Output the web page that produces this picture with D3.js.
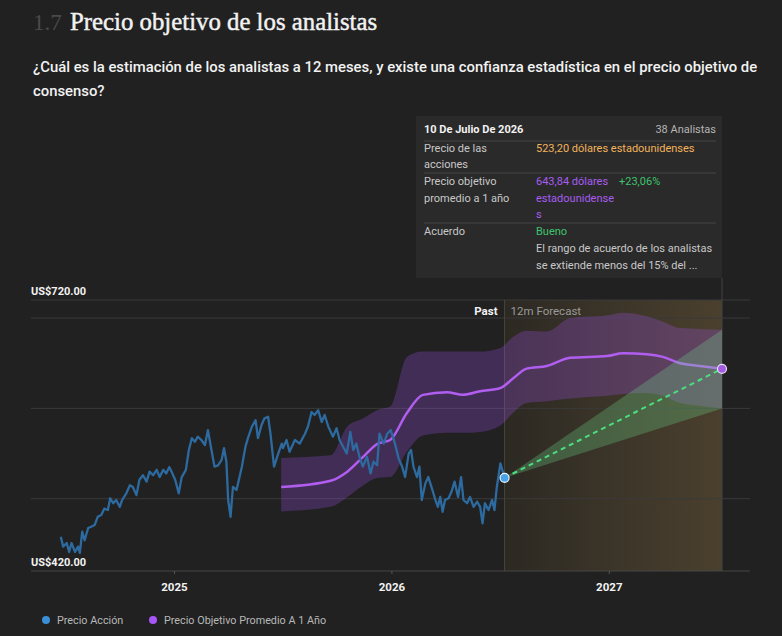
<!DOCTYPE html>
<html lang="es">
<head>
<meta charset="UTF-8">
<title>Precio objetivo de los analistas</title>
<style>
  html, body { margin: 0; padding: 0; background: #212121; }
  svg { display: block; }
</style>
</head>
<body>
<svg width="782" height="636"></svg>
<script src="https://cdn.jsdelivr.net/npm/d3@7"></script>
<script>
// datos
var priceDates = ["2024-06-25","2024-06-29","2024-07-05","2024-07-09","2024-07-13","2024-07-19","2024-07-24","2024-07-27","2024-07-31","2024-08-04",
  "2024-08-10","2024-08-15","2024-08-21","2024-08-26","2024-09-01","2024-09-06","2024-09-12","2024-09-16","2024-09-21","2024-09-26",
  "2024-10-02","2024-10-06","2024-10-13","2024-10-19","2024-10-24","2024-10-30","2024-11-04","2024-11-10","2024-11-16","2024-11-21",
  "2024-11-27","2024-12-03","2024-12-08","2024-12-14","2024-12-19","2024-12-24","2024-12-28","2025-01-03","2025-01-09","2025-01-14",
  "2025-01-21","2025-01-26","2025-01-31","2025-02-05","2025-02-10","2025-02-16","2025-02-22","2025-02-27","2025-03-04","2025-03-10",
  "2025-03-16","2025-03-22","2025-03-26","2025-03-30","2025-04-02","2025-04-06","2025-04-10","2025-04-16","2025-04-20","2025-04-25",
  "2025-05-01","2025-05-06","2025-05-12","2025-05-18","2025-05-22","2025-05-28","2025-06-02","2025-06-08","2025-06-12","2025-06-18",
  "2025-06-25","2025-07-01","2025-07-03","2025-07-09","2025-07-14","2025-07-23","2025-07-31","2025-08-09","2025-08-14","2025-08-20",
  "2025-08-25","2025-08-31","2025-09-06","2025-09-11","2025-09-17","2025-09-25","2025-10-01","2025-10-06","2025-10-12","2025-10-18",
  "2025-10-24","2025-10-29","2025-11-03","2025-11-09","2025-11-14","2025-11-21","2025-11-27","2025-12-02","2025-12-08","2025-12-12",
  "2025-12-19","2025-12-25","2025-12-31","2026-01-07","2026-01-13","2026-01-19","2026-01-24","2026-01-30","2026-02-03","2026-02-07",
  "2026-02-13","2026-02-17","2026-02-21","2026-02-27","2026-03-04","2026-03-10","2026-03-15","2026-03-20","2026-03-24","2026-03-28",
  "2026-04-01","2026-04-07","2026-04-12","2026-04-17","2026-04-23","2026-04-28","2026-05-02","2026-05-08","2026-05-13","2026-05-19",
  "2026-05-25","2026-05-30","2026-06-03","2026-06-07","2026-06-13","2026-06-19","2026-06-23","2026-06-27","2026-07-03","2026-07-07",
  "2026-07-10"];
var priceValues = [458,447,451,441,451,441,447,440,463.5,454,
  467.6,469,471,480,482,489,487.5,500.5,495,498.6,
  491,498.6,506,515,513,504,521,526,519,530,
  526,532,524,532,528,535,530,521,506,524,
  532,554,567,563,568.7,565,559.5,576,557.6,535.5,
  537,543,556,541,498.6,480,513,509.7,521,535.5,
  557.6,568.7,580,587,567,581.6,589,590.8,572,535.5,
  550,561,556,565,552,565,561,572,580,596,
  592.7,598,585,592.7,580,568.7,578,565,557.6,550,
  574,554,561,545,535.5,546.5,528,541,537,572,
  561,572,576,561,545,535.5,524,550,554,535.5,
  524,535.5,498.6,517,524,511.5,500.5,491,502,485.6,
  498.6,500.5,508,519,502,524,498.6,495,502,491,
  496.7,491,472.8,495,487.5,498.6,487.5,513,539,530,
  523.2];

var targetDates = ["2025-06-30","2025-09-21","2025-10-19","2025-11-15","2025-12-08","2025-12-30","2026-01-27","2026-02-23","2026-04-04","2026-05-01",
  "2026-05-30","2026-07-03","2026-07-24","2026-08-16","2026-09-19","2026-10-28","2026-12-29","2027-01-25","2027-03-06","2027-04-02",
  "2027-05-01","2027-06-03","2027-07-10"];
var targetMean = [513,520,530,546.6,560.6,565,595,615,618,615,619,622.6,633,644,647,656,658,661,660,657,650,647,643.84];
var targetHigh = [545,548,580,589,598,602,657,663,663,663,663,667,679,686,685,700,703,706,702,696,689,688,687];
var targetLow  = [486,491,502,515,523,524,552,570,573,573,574,581,595,606,608,611,614,616,617,614,606,603,600];

var lastPriceDate = "2026-07-10", lastPrice = 523.2;
var forecastDate = "2027-07-10", forecastMean = 643.84, forecastLow = 600, forecastHigh = 687;
var yTicks = [500, 600, 700];
var yLabels = [720, 420];
var xTickYears = ["2025-01-01", "2026-01-01", "2027-01-01"];

var parse = d3.timeParse("%Y-%m-%d");
var svg = d3.select("svg");
var sans = "Roboto, 'Noto Sans', sans-serif";
var serif = "'Liberation Serif', 'DejaVu Serif', serif";

var x = d3.scaleTime().domain([parse("2024-05-06"), parse("2027-08-26")]).range([31, 750]);
var y = d3.scaleLinear().domain([420, 720]).range([571, 300]);

var price = priceDates.map(function(d, i){ return {date: parse(d), v: priceValues[i]}; });
var target = targetDates.map(function(d, i){
  return {date: parse(d), m: targetMean[i], hi: targetHigh[i], lo: targetLow[i]};
});

// titulo
svg.append("text").attr("x", 33).attr("y", 30)
  .attr("font-family", serif).attr("font-size", 23)
  .attr("fill", "#4a4a4a").text("1.7");
svg.append("text").attr("x", 70).attr("y", 30)
  .attr("font-family", serif).attr("font-size", 24.8)
  .attr("fill", "#f2f2f2").attr("stroke", "#f2f2f2").attr("stroke-width", 0.45)
  .text("Precio objetivo de los analistas");
svg.append("text").attr("x", 33).attr("y", 72)
  .attr("font-family", sans).attr("font-size", 14.85).attr("font-weight", 500)
  .attr("fill", "#f2f2f2")
  .text("¿Cuál es la estimación de los analistas a 12 meses, y existe una confianza estadística en el precio objetivo de");
svg.append("text").attr("x", 33).attr("y", 96)
  .attr("font-family", sans).attr("font-size", 14.85).attr("font-weight", 500)
  .attr("fill", "#f2f2f2").text("consenso?");

// zona de prevision
var defs = svg.append("defs");
var grad = defs.append("linearGradient").attr("id", "fc").attr("x1", 0).attr("x2", 1).attr("y1", 0).attr("y2", 0);
grad.append("stop").attr("offset", 0).attr("stop-color", "#2c2923");
grad.append("stop").attr("offset", 1).attr("stop-color", "#4b402e");

var x0 = x(parse(lastPriceDate)), x1 = x(parse(forecastDate));
svg.append("rect").attr("x", x0).attr("y", y(720)).attr("width", x1 - x0).attr("height", y(420) - y(720))
  .attr("fill", "url(#fc)");

// rejilla
var grid = svg.append("g");
grid.selectAll("line").data([720].concat(yTicks)).enter().append("line")
  .attr("x1", 31).attr("x2", 750)
  .attr("y1", function(d){ return y(d); }).attr("y2", function(d){ return y(d); })
  .attr("stroke", "#3a3a3a").attr("stroke-width", 1);

svg.append("line").attr("x1", x0).attr("x2", x0).attr("y1", y(720)).attr("y2", y(420))
  .attr("stroke", "#4a4538");
svg.append("line").attr("x1", x1).attr("x2", x1).attr("y1", 278).attr("y2", y(420))
  .attr("stroke", "#444");

// eje x
var xAxis = d3.axisBottom(x).tickValues(xTickYears.map(parse)).tickFormat(d3.timeFormat("%Y")).tickSize(3);
var gx = svg.append("g").attr("transform", "translate(0," + y(420) + ")").call(xAxis);
gx.select(".domain").attr("stroke", "#474747").attr("d", "M31,0H750");
gx.selectAll(".tick line").attr("stroke", "#555");
gx.selectAll(".tick text").attr("fill", "#f2f2f2").attr("font-family", sans)
  .attr("font-size", 11.5).attr("font-weight", 700).attr("dy", "1.2em");

// etiquetas y
svg.selectAll(".ylab").data(yLabels).enter().append("text")
  .attr("x", 31).attr("y", function(d){ return y(d) - 5; })
  .attr("font-family", sans).attr("font-size", 11).attr("font-weight", 700).attr("fill", "#f2f2f2")
  .text(function(d){ return "US$" + d3.format(".2f")(d); });

// banda de precio objetivo
var band = d3.area().curve(d3.curveMonotoneX)
  .x(function(d){ return x(d.date); })
  .y0(function(d){ return y(d.lo); })
  .y1(function(d){ return y(d.hi); });
svg.append("path").datum(target).attr("d", band).attr("fill", "rgba(168,85,247,0.25)");

svg.append("path").datum(target)
  .attr("d", d3.line().curve(d3.curveMonotoneX).x(function(d){ return x(d.date); }).y(function(d){ return y(d.m); }))
  .attr("fill", "none").attr("stroke", "#b15ef0").attr("stroke-width", 2.5);

// linea de precio
svg.append("path").datum(price)
  .attr("d", d3.line().x(function(d){ return x(d.date); }).y(function(d){ return y(d.v); }))
  .attr("fill", "none").attr("stroke", "#2d6a9f").attr("stroke-width", 2.3).attr("stroke-linejoin", "round");

// cono de prevision
var cone = [
  {date: parse(lastPriceDate), lo: lastPrice, hi: lastPrice},
  {date: parse(forecastDate), lo: forecastLow, hi: forecastHigh}
];
svg.append("path").datum(cone)
  .attr("d", d3.area().x(function(d){ return x(d.date); }).y0(function(d){ return y(d.lo); }).y1(function(d){ return y(d.hi); }))
  .attr("fill", "rgba(110,220,140,0.28)");
svg.append("line")
  .attr("x1", x0).attr("y1", y(lastPrice)).attr("x2", x1).attr("y2", y(forecastMean))
  .attr("stroke", "#4ade80").attr("stroke-width", 2).attr("stroke-dasharray", "5,4");

svg.append("circle").attr("cx", x0).attr("cy", y(lastPrice)).attr("r", 4.5)
  .attr("fill", "#4aa3e8").attr("stroke", "#e8f2fb").attr("stroke-width", 1.2);
svg.append("circle").attr("cx", x1).attr("cy", y(forecastMean)).attr("r", 4.5)
  .attr("fill", "#a35be0").attr("stroke", "#eadcf7").attr("stroke-width", 1.2);

// etiquetas pasado / prevision
svg.append("text").attr("x", x0 - 7).attr("y", 315).attr("text-anchor", "end")
  .attr("font-family", sans).attr("font-size", 11.5).attr("font-weight", 700).attr("fill", "#f2f2f2").text("Past");
svg.append("text").attr("x", x0 + 6).attr("y", 315)
  .attr("font-family", sans).attr("font-size", 11.5).attr("fill", "#9a9a9a").text("12m Forecast");

// tooltip
var tip = svg.append("g").attr("font-family", sans).attr("font-size", 11);
tip.append("rect").attr("x", 416).attr("y", 116).attr("width", 306).attr("height", 162).attr("fill", "#2a2a2a");
tip.append("text").attr("x", 424).attr("y", 133).attr("fill", "#f2f2f2").attr("font-weight", 700).text("10 De Julio De 2026");
tip.append("text").attr("x", 716).attr("y", 133).attr("fill", "#b5b5b5").attr("text-anchor", "end").text("38 Analistas");
[141, 173, 223].forEach(function(ly){
  tip.append("line").attr("x1", 424).attr("x2", 716).attr("y1", ly).attr("y2", ly).attr("stroke", "#454545");
});
var rows = [
  [424, 152, "#c8c8c8", "Precio de las"], [424, 168, "#c8c8c8", "acciones"],
  [536, 152, "#f2b35c", "523,20 dólares estadounidenses"],
  [424, 185, "#c8c8c8", "Precio objetivo"], [424, 202, "#c8c8c8", "promedio a 1 año"],
  [536, 185, "#a85cf0", "643,84 dólares"], [536, 202, "#a85cf0", "estadounidense"], [536, 218, "#a85cf0", "s"],
  [619, 185, "#3ec46d", "+23,06%"],
  [424, 235, "#c8c8c8", "Acuerdo"], [536, 235, "#3ec46d", "Bueno"],
  [536, 252, "#c8c8c8", "El rango de acuerdo de los analistas"],
  [536, 269, "#c8c8c8", "se extiende menos del 15% del ..."]
];
rows.forEach(function(r){
  tip.append("text").attr("x", r[0]).attr("y", r[1]).attr("fill", r[2]).text(r[3]);
});

// leyenda
var legend = [["Precio Acción", "#3b8fd6", 46], ["Precio Objetivo Promedio A 1 Año", "#a855f7", 153]];
var lg = svg.selectAll(".lg").data(legend).enter().append("g");
lg.append("circle").attr("cx", function(d){ return d[2]; }).attr("cy", 620).attr("r", 4).attr("fill", function(d){ return d[1]; });
lg.append("text").attr("x", function(d){ return d[2] + 11; }).attr("y", 624)
  .attr("font-family", sans).attr("font-size", 10.8).attr("fill", "#b8b8b8").text(function(d){ return d[0]; });
</script>
</body>
</html>
